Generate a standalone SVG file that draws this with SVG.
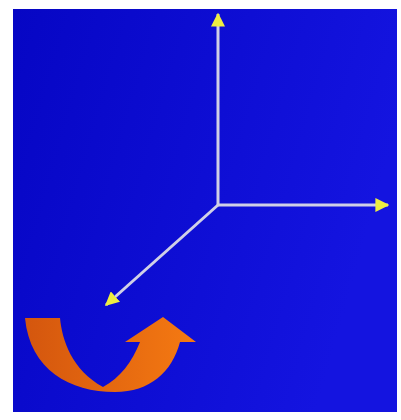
<svg xmlns="http://www.w3.org/2000/svg" width="401" height="420" viewBox="0 0 401 420">
<defs>
<linearGradient id="bg" x1="0" y1="0" x2="1" y2="0.3">
<stop offset="0" stop-color="#0606c4"/>
<stop offset="1" stop-color="#1414e0"/>
</linearGradient>
<linearGradient id="or" x1="0" y1="0" x2="1" y2="0">
<stop offset="0" stop-color="#d4560e"/>
<stop offset="1" stop-color="#f57a12"/>
</linearGradient>
<marker id="ah" viewBox="0 0 10 10" refX="9" refY="5" markerWidth="14" markerHeight="14" markerUnits="userSpaceOnUse" orient="auto">
<path d="M0,0 L10,5 L0,10 Z" fill="#eeee40"/>
</marker>
<style>
.axis{stroke:#d0d0e6;stroke-width:3;fill:none;marker-end:url(#ah)}
</style>
</defs>
<rect width="401" height="420" fill="#ffffff"/>
<rect x="13" y="9" width="384" height="403" fill="url(#bg)"/>
<g id="connectors">
<line class="axis" x1="218" y1="205" x2="218" y2="14"/>
<line class="axis" x1="218" y1="205" x2="388" y2="205"/>
<line class="axis" x1="218" y1="205" x2="106" y2="305"/>
</g>
<g id="rotation-arrow">
<path d="M25,318 L60,318 C62,340 72,370 103,387 C120,378 132,362 140,342 L125,342 L163,317 L196,342 L180,342 C172,372 150,392 115,392 C70,392 30,370 25,318 Z" fill="url(#or)"/>
</g>
</svg>
